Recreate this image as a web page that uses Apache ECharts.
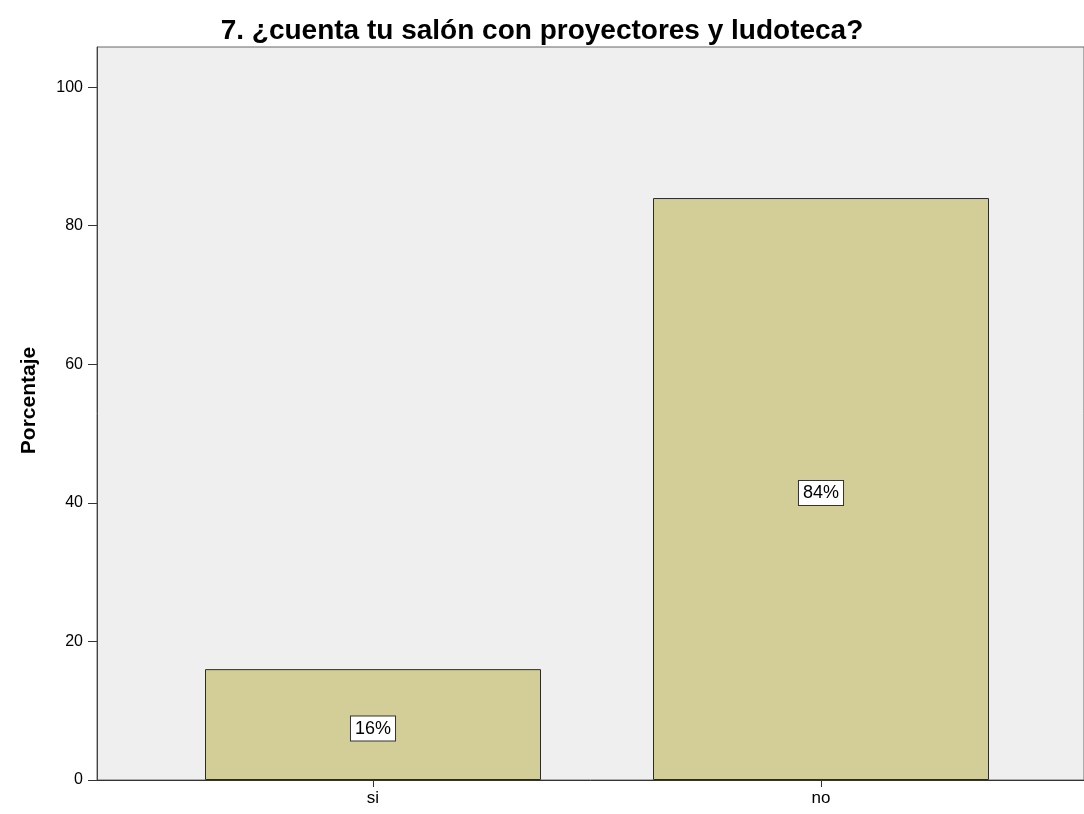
<!DOCTYPE html>
<html>
<head>
<meta charset="utf-8">
<script src="https://cdn.jsdelivr.net/npm/echarts@6/dist/echarts.min.js"></script>
<style>
  html, body { margin: 0; background: #fff; }
  #chart { width: 1084px; height: 814px; }
</style>
</head>
<body>
<div id="chart"></div>
<script>
const categories = ['si', 'no']
const percentages = [16, 84]
const yTicks = [0, 20, 40, 60, 80, 100]
const yMax = 105.8

const font = '"Liberation Sans", Arial, sans-serif'

const chart = echarts.init(document.getElementById('chart'))

const option = {
  animation: false,
  textStyle: { fontFamily: font },
  title: {
    text: '7. ¿cuenta tu salón con proyectores y ludoteca?',
    left: 'center',
    top: 12,
    textStyle: { fontFamily: font, fontSize: 28, fontWeight: 'bold', color: '#000' }
  },
  grid: [
    // background frame + y axis
    { left: 97, top: 47, width: 1010, bottom: 34, show: true, backgroundColor: '#efefef', borderColor: '#666', borderWidth: 1 },
    // bars
    { left: 149, top: 47, width: 896, bottom: 34 }
  ],
  xAxis: [
    {
      gridIndex: 0, type: 'category', data: categories,
      axisLine: { lineStyle: { color: '#333', width: 1 } },
      axisTick: { show: false },
      axisLabel: { show: false }
    },
    {
      gridIndex: 1, type: 'category', data: categories,
      axisLine: { show: false },
      axisTick: { show: true, alignWithLabel: true, length: 7, lineStyle: { color: '#333' } },
      axisLabel: { fontSize: 17, color: '#000', margin: 10 }
    }
  ],
  yAxis: [
    {
      gridIndex: 0, type: 'value', min: 0, max: yMax, interval: 20,
      name: 'Porcentaje', nameLocation: 'middle', nameGap: 57,
      nameTextStyle: { fontSize: 21, fontWeight: 'bold', color: '#000', padding: [0, 0, 0, 26] },
      axisLine: { show: true, lineStyle: { color: '#444', width: 1 } },
      axisTick: { show: true, length: 9, customValues: yTicks, lineStyle: { color: '#333' } },
      axisLabel: { fontSize: 16, color: '#000', margin: 14, customValues: yTicks },
      splitLine: { show: false }
    },
    {
      gridIndex: 1, type: 'value', min: 0, max: yMax, interval: 20, show: false
    }
  ],
  series: [{
    type: 'bar',
    xAxisIndex: 1,
    yAxisIndex: 1,
    data: percentages,
    barWidth: '75%',
    itemStyle: { color: '#d3ce97', borderColor: '#2b2b2b', borderWidth: 1 },
    label: {
      show: true,
      position: 'inside',
      offset: [0, 4],
      formatter: '{c}%',
      fontSize: 18,
      color: '#000',
      backgroundColor: '#fff',
      borderColor: '#333',
      borderWidth: 1,
      padding: [4, 4, 2, 4]
    }
  }]
}

chart.setOption(option)
</script>
</body>
</html>
